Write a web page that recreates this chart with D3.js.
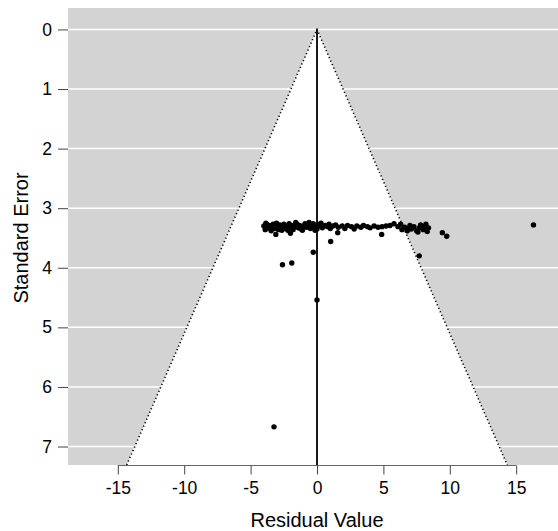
<!DOCTYPE html>
<html><head><meta charset="utf-8">
<script src="https://cdn.jsdelivr.net/npm/d3@7"></script>
<style>body{margin:0;background:#fff}svg{display:block}text{font-family:"Liberation Sans",Arial,sans-serif;fill:#000}</style>
</head><body><svg id="c" width="558" height="531"></svg>
<script>
const xTicks = [-15,-10,-5,0,5,10,15];
const yTicks = [0,1,2,3,4,5,6,7];
const xLabel = "Residual Value";
const yLabel = "Standard Error";
const zCrit = 1.96;
const seBottom = 7.31;
// residual values and standard errors
const residuals = [-4.0,-3.9,-3.8,-3.7,-3.6,-3.5,-3.4,-3.3,-3.2,-3.0,-2.9,-2.8,-2.6,-2.5,-2.4,-2.3,-2.1,-2.0,-1.9,-1.8,-1.7,-1.5,-1.4,-1.3,-1.2,-1.0,-0.9,-0.8,-0.7,-0.5,-0.4,-0.3,-0.2,-0.1,0.0,0.1,0.2,0.4,0.6,0.8,1.0,1.2,1.4,1.6,1.9,2.1,2.3,2.6,2.8,3.0,3.3,3.5,3.8,4.0,4.3,4.6,4.9,5.2,5.5,5.8,6.1,6.3,6.4,6.6,6.8,7.0,7.1,7.3,7.5,7.7,7.8,8.0,8.1,8.3,8.4,
  -3.85,-3.45,-3.05,-2.65,-2.2,-1.6,-1.1,-0.6,-0.15,0.3,0.9,6.9,7.6,8.2,
  -3.1,-2.0,1.56,4.87,1.03,-0.28,7.7,9.44,9.77,16.3,-2.6,-1.9,0.0,-3.24];
const stdErrors = [3.30,3.36,3.27,3.33,3.29,3.35,3.31,3.27,3.34,3.30,3.36,3.28,3.32,3.27,3.34,3.30,3.26,3.33,3.29,3.36,3.31,3.27,3.33,3.29,3.35,3.30,3.26,3.32,3.28,3.34,3.30,3.26,3.32,3.28,3.35,3.30,3.27,3.33,3.29,3.31,3.34,3.30,3.28,3.32,3.30,3.34,3.29,3.31,3.35,3.30,3.32,3.29,3.31,3.33,3.30,3.32,3.31,3.30,3.29,3.26,3.31,3.27,3.36,3.32,3.38,3.29,3.35,3.31,3.38,3.33,3.28,3.36,3.31,3.39,3.33,
  3.25,3.38,3.25,3.37,3.37,3.24,3.37,3.24,3.37,3.25,3.27,3.34,3.40,3.27,
  3.44,3.42,3.41,3.44,3.56,3.74,3.80,3.41,3.47,3.28,3.95,3.92,4.54,6.67];

const svg = d3.select("#c");
const x = d3.scaleLinear().domain([-18.75,18.75]).range([68,566]);
const y = d3.scaleLinear().domain([-0.36,seBottom]).range([8,465]);

// grey background
svg.append("rect").attr("x",x(-18.75)).attr("y",y(-0.36)).attr("width",x(18.75)-x(-18.75)).attr("height",y(seBottom)-y(-0.36)).attr("fill","#d3d3d3");
// gridlines
svg.append("g").selectAll("line").data(yTicks).join("line")
  .attr("x1",x(-18.75)).attr("x2",x(18.75)).attr("y1",d=>y(d)).attr("y2",d=>y(d))
  .attr("stroke","#fff").attr("stroke-width",1.5);
// funnel
const funnel = [[0,0],[-zCrit*seBottom,seBottom],[zCrit*seBottom,seBottom]];
svg.append("path").attr("d",d3.line().x(d=>x(d[0])).y(d=>y(d[1]))(funnel)+"Z").attr("fill","#fff");
svg.append("path").attr("d",d3.line().x(d=>x(d[0])).y(d=>y(d[1]))([funnel[1],funnel[0],funnel[2]]))
  .attr("fill","none").attr("stroke","#000").attr("stroke-width",1.6).attr("stroke-dasharray","1.2,2.6");
// vertical reference line
svg.append("line").attr("x1",x(0)).attr("x2",x(0)).attr("y1",y(0)).attr("y2",y(seBottom)).attr("stroke","#000").attr("stroke-width",1.8);

// x axis
const xa = svg.append("g").attr("transform",`translate(0,${y(seBottom)+0.5})`)
  .call(d3.axisBottom(x).tickValues(xTicks).tickFormat(d=>String(d)).tickSize(9).tickPadding(7).tickSizeOuter(0));
xa.select(".domain").attr("d",`M${x(-15)},0H${x(15)}`).attr("stroke","#666");
xa.selectAll(".tick line").attr("stroke","#444");
xa.selectAll("text").attr("font-size",17.5).style("font-family","Liberation Sans, Arial, sans-serif");
// y axis
const ya = svg.append("g").attr("transform",`translate(68,0)`)
  .call(d3.axisLeft(y).tickValues(yTicks).tickFormat(d=>String(d)).tickSize(10).tickPadding(6));
ya.select(".domain").remove();
ya.selectAll(".tick line").attr("stroke","#444");
ya.selectAll("text").attr("font-size",17.5).style("font-family","Liberation Sans, Arial, sans-serif");

// points
svg.append("g").selectAll("circle").data(residuals.map((r,i)=>[r,stdErrors[i]])).join("circle")
  .attr("cx",d=>x(d[0])).attr("cy",d=>y(d[1])).attr("r",2.7).attr("fill","#000");

// titles
svg.append("text").attr("x",x(0)).attr("y",527).attr("text-anchor","middle").attr("font-size",20).text(xLabel);
svg.append("text").attr("transform",`translate(28,${y(3.5)}) rotate(-90)`).attr("text-anchor","middle").attr("font-size",20).text(yLabel);
</script></body></html>
